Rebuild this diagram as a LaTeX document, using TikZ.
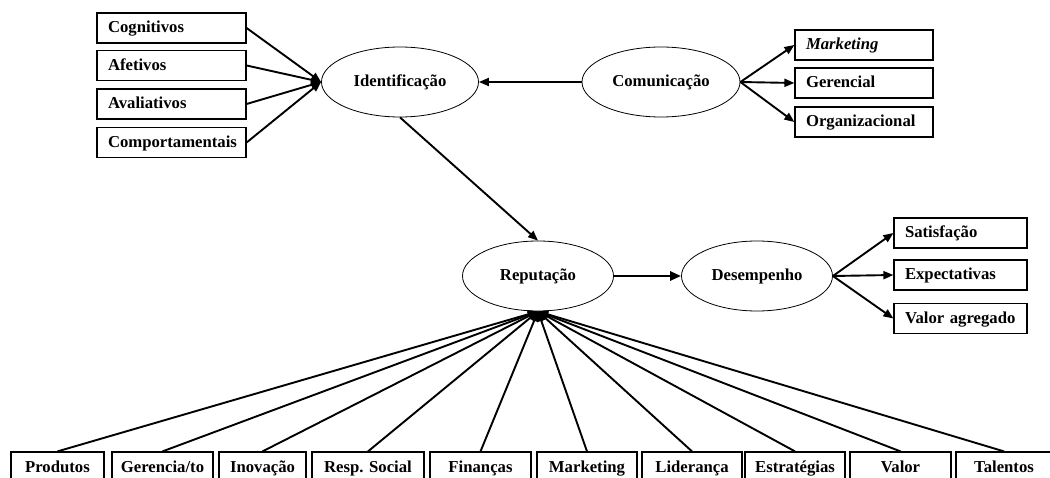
\documentclass[tikz,border=0pt]{standalone}
\usepackage{fontspec}
\setmainfont{Liberation Serif}
\usetikzlibrary{arrows.meta,shapes.geometric}
\begin{document}
\begin{tikzpicture}[x=1pt,y=-1pt,
  lbl/.style={font=\fontsize{16.7}{19}\selectfont\bfseries},
  lbox/.style={lbl,draw,line width=1.2pt,rectangle,inner sep=0pt,minimum height=30pt,text height=13.5pt,text depth=3.5pt,align=left},
  bbox/.style={lbl,draw,line width=1.2pt,rectangle,inner sep=0pt,minimum height=30pt,text height=14.5pt,text depth=3pt,align=center},
  oval/.style={lbl,draw,line width=0.8pt,ellipse,inner sep=0pt,minimum height=70pt},
  conn/.style={line width=1.9pt,-{Triangle[length=10pt,width=8pt]}},
  bigconn/.style={line width=2.8pt,-{Triangle[length=11pt,width=9pt]}}
]
\useasboundingbox (0,0) rectangle (1050,478);
\clip (0,0) rectangle (1050,478);

% ellipses
\node[oval,minimum width=157pt] (ide) at (400,82) {Identificação};
\node[oval,minimum width=158pt] (com) at (661,82) {Comunicação};
\node[oval,minimum width=151pt] (rep) at (538,276) {Reputação};
\node[oval,minimum width=151pt] (des) at (757,276) {Desempenho};

% left boxes
\node[lbox,minimum width=149pt,text width=127pt] (cog) at (171.5,28) {Cognitivos};
\node[lbox,minimum width=149pt,text width=127pt] (afe) at (171.5,65.5) {Afetivos};
\node[lbox,minimum width=149pt,text width=127pt] (ava) at (171.5,104) {Avaliativos};
\node[lbox,minimum width=149pt,text width=127pt] (cmp) at (171.5,142.5) {Comportamentais};

% right top boxes
\node[lbox,minimum width=138pt,text width=116pt] (mkt) at (864,45) {\itshape Marketing};
\node[lbox,minimum width=138pt,text width=116pt] (ger) at (864,83) {Gerencial};
\node[lbox,minimum width=138pt,text width=116pt] (org) at (864,122) {Organizacional};

% right middle boxes
\node[lbox,minimum width=133pt,text width=111pt] (sat) at (960.5,233) {Satisfação};
\node[lbox,minimum width=133pt,text width=111pt] (exp) at (960.5,275) {Expectativas};
\node[lbox,minimum width=133pt,text width=111pt] (val) at (960.5,318.5) {Valor agregado};

% bottom boxes
\node[bbox,minimum width=93pt] (b1) at (57.5,467) {Produtos};
\node[bbox,minimum width=101pt] (b2) at (162.5,467) {Gerencia/to};
\node[bbox,minimum width=87pt] (b3) at (262.5,467) {Inovação};
\node[bbox,minimum width=112pt] (b4) at (368,467) {Resp. Social};
\node[bbox,minimum width=101pt] (b5) at (480.5,467) {Finanças};
\node[bbox,minimum width=100pt] (b6) at (587,467) {Marketing};
\node[bbox,minimum width=100pt] (b7) at (692,467) {Liderança};
\node[bbox,minimum width=100pt] (b8) at (795,467) {Estratégias};
\node[bbox,minimum width=101pt] (b9) at (900.5,467) {Valor};
\node[bbox,minimum width=96pt] (b10) at (1004,467) {Talentos};

% connectors
\foreach \n in {cog,afe,ava,cmp} \draw[conn] (\n.east) -- (ide.west);
\draw[conn] (com.west) -- (ide.east);
\foreach \n in {mkt,ger,org} \draw[conn] (com.east) -- (\n.west);
\draw[conn] (ide.south) -- (rep.north);
\draw[bigconn] (rep.east) -- (des.west);
\foreach \n in {sat,exp,val} \draw[conn] (des.east) -- (\n.west);
\foreach \n in {b1,b2,b3,b4,b5,b6,b7,b8,b9,b10} \draw[conn] (\n.north) -- (rep.south);
\end{tikzpicture}
\end{document}
